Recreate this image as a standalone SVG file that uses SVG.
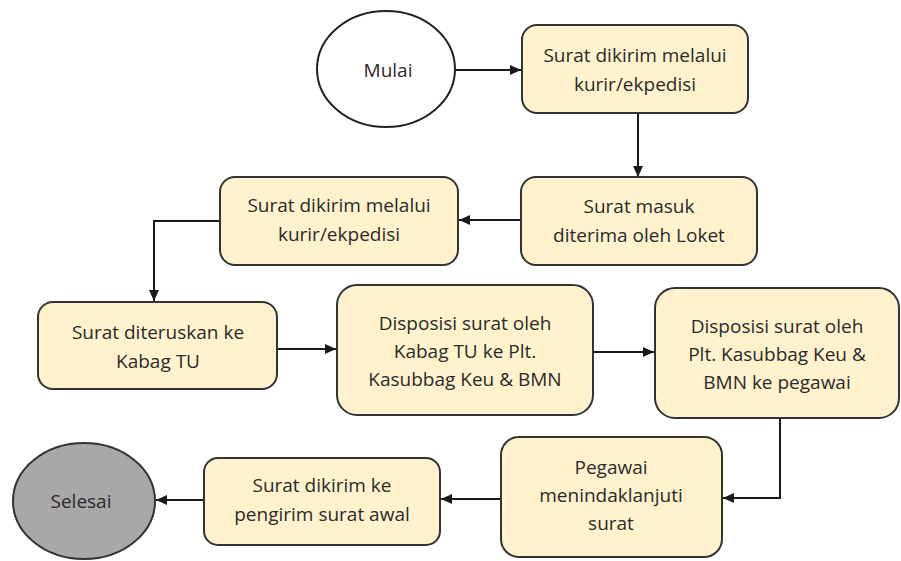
<svg xmlns="http://www.w3.org/2000/svg" width="901" height="561" viewBox="0 0 901 561">
<defs>
<style>
.box{fill:#FFF2CC;stroke:#333333;stroke-width:2}
.term{fill:#ffffff;stroke:#222222;stroke-width:2}
.end{fill:#A9A7A9;stroke:#333333;stroke-width:2}
text{font-family:"Open Sans","Noto Sans",sans-serif;font-size:19px;fill:#2b2b2b;text-anchor:middle;dominant-baseline:central}
.conn{fill:none;stroke:#1a1a1a;stroke-width:2;marker-end:url(#arr)}
</style>
<marker id="arr" markerUnits="userSpaceOnUse" markerWidth="12" markerHeight="12" viewBox="0 0 12 12" refX="11" refY="6" orient="auto">
<path d="M0,1 L11,6 L0,11 z" fill="#1a1a1a"/>
</marker>
</defs>
<rect width="901" height="561" fill="#ffffff"/>
<g id="connectors">
<line class="conn" x1="455" y1="70" x2="521" y2="70"/>
<line class="conn" x1="638" y1="113" x2="638" y2="177"/>
<line class="conn" x1="521" y1="220" x2="459" y2="220"/>
<polyline class="conn" points="220,221 154,221 154,301"/>
<line class="conn" x1="277" y1="349" x2="336" y2="349"/>
<line class="conn" x1="593" y1="352" x2="654" y2="352"/>
<polyline class="conn" points="780,418 780,498 723,498"/>
<line class="conn" x1="500" y1="499" x2="441" y2="499"/>
<line class="conn" x1="204" y1="500" x2="156" y2="500"/>
</g>
<g id="mulai">
<ellipse class="term" cx="386" cy="69" rx="69" ry="58"/>
<text x="388" y="70">Mulai</text>
</g>
<g id="n1">
<rect class="box" x="522" y="25" width="226" height="88" rx="15"/>
<text x="635" y="55">Surat dikirim melalui</text>
<text x="635" y="84">kurir/ekpedisi</text>
</g>
<g id="n2">
<rect class="box" x="521" y="177" width="236" height="88" rx="15"/>
<text x="639" y="206">Surat masuk</text>
<text x="639" y="235">diterima oleh Loket</text>
</g>
<g id="n3">
<rect class="box" x="220" y="177" width="238" height="88" rx="15"/>
<text x="339" y="205">Surat dikirim melalui</text>
<text x="339" y="234">kurir/ekpedisi</text>
</g>
<g id="n4">
<rect class="box" x="38" y="302" width="239" height="87" rx="15"/>
<text x="158" y="332">Surat diteruskan ke</text>
<text x="158" y="361">Kabag TU</text>
</g>
<g id="n5">
<rect class="box" x="337" y="285" width="256" height="130" rx="20"/>
<text x="465" y="323">Disposisi surat oleh</text>
<text x="465" y="351">Kabag TU ke Plt.</text>
<text x="465" y="379">Kasubbag Keu &amp; BMN</text>
</g>
<g id="n6">
<rect class="box" x="655" y="288" width="244" height="130" rx="20"/>
<text x="777" y="326">Disposisi surat oleh</text>
<text x="777" y="354">Plt. Kasubbag Keu &amp;</text>
<text x="777" y="382">BMN ke pegawai</text>
</g>
<g id="n7">
<rect class="box" x="501" y="437" width="221" height="120" rx="18"/>
<text x="611" y="467">Pegawai</text>
<text x="611" y="495">menindaklanjuti</text>
<text x="611" y="523">surat</text>
</g>
<g id="n8">
<rect class="box" x="204" y="458" width="236" height="87" rx="14"/>
<text x="322" y="485">Surat dikirim ke</text>
<text x="322" y="514">pengirim surat awal</text>
</g>
<g id="selesai">
<ellipse class="end" cx="84" cy="501" rx="71" ry="58"/>
<text x="81" y="501">Selesai</text>
</g>
</svg>
